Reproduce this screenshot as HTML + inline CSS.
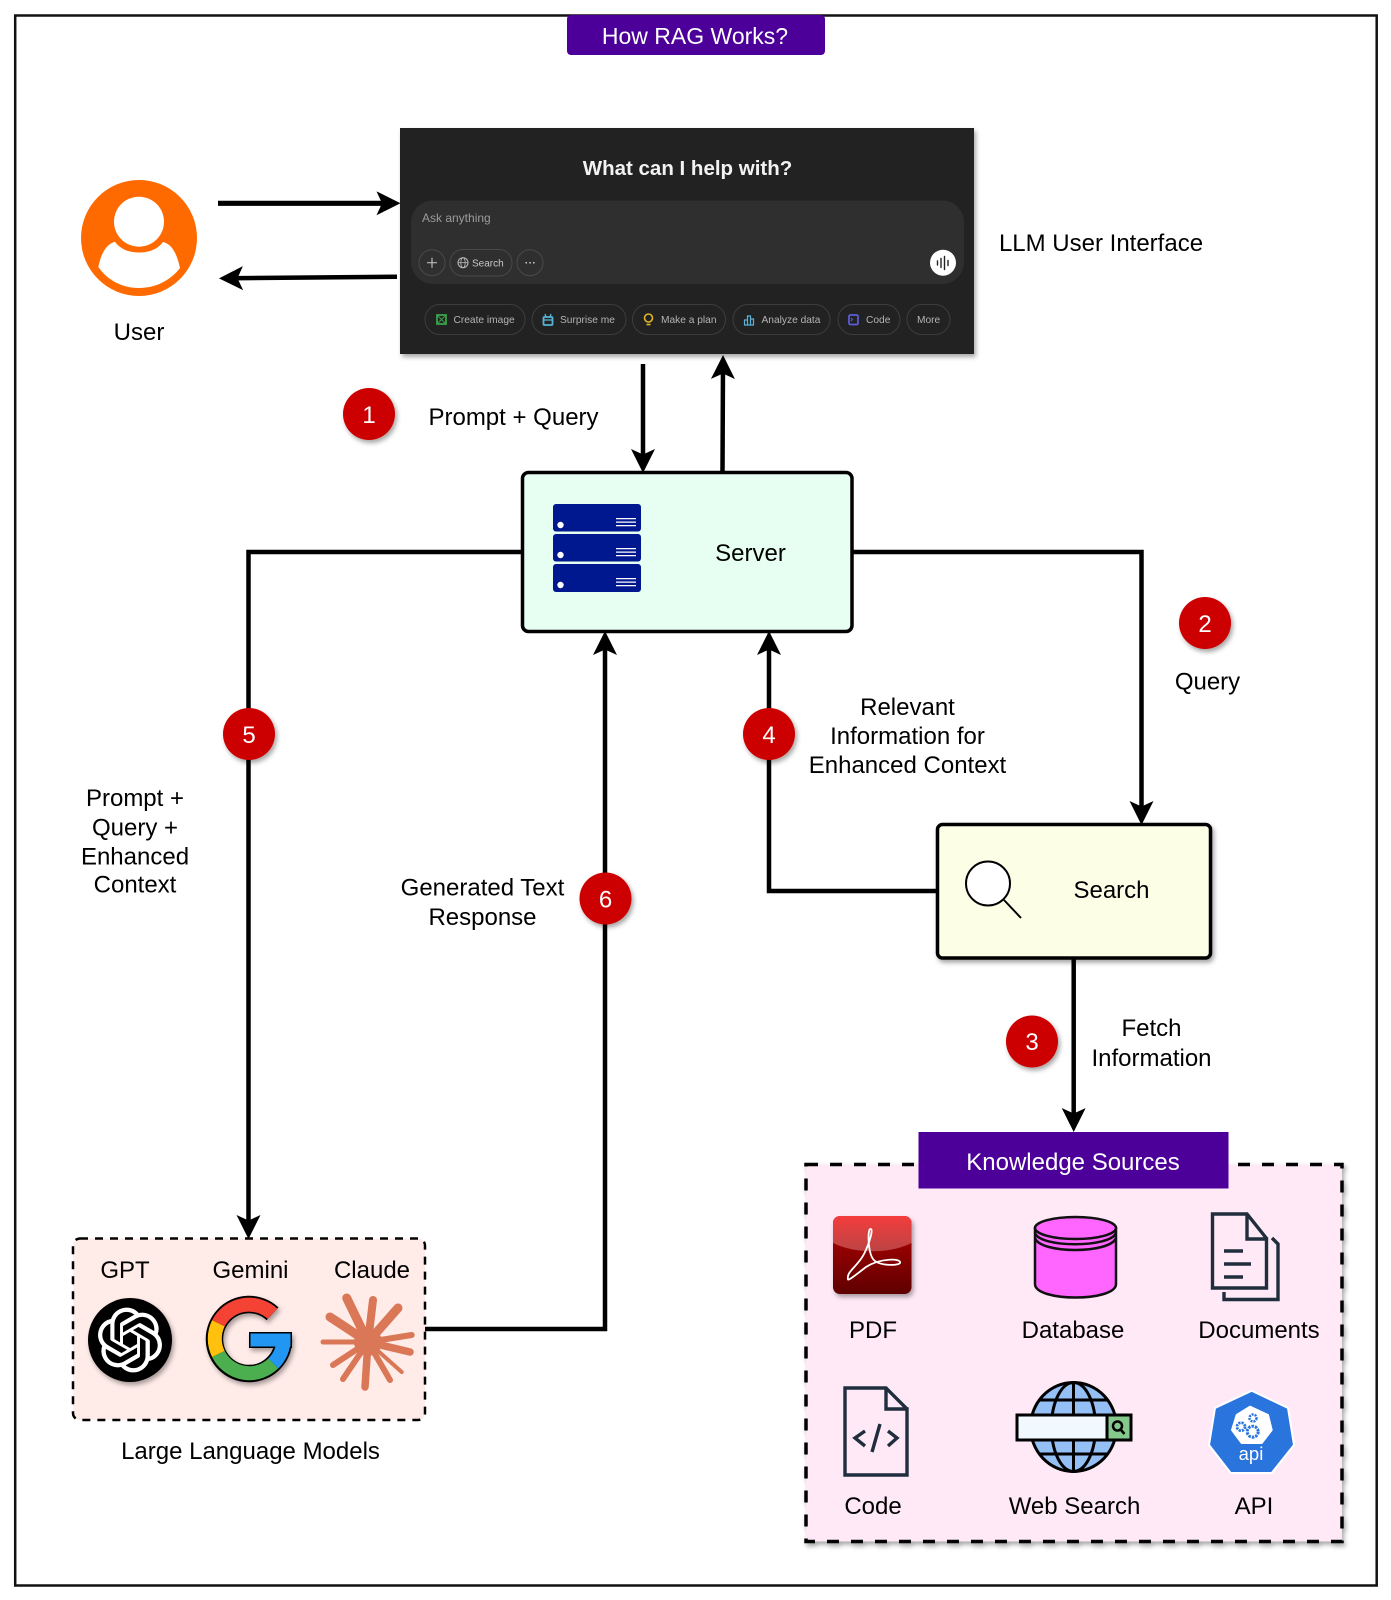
<!DOCTYPE html>
<html><head><meta charset="utf-8"><title>How RAG Works?</title>
<style>
html,body{margin:0;padding:0;background:#fff;width:1391px;height:1600px;overflow:hidden}
svg{display:block;filter:blur(.3px)}
text{font-family:"Liberation Sans",Arial,sans-serif;font-size:24px;fill:#000;text-anchor:middle}
.conn{fill:none;stroke:#000;stroke-width:4.5;stroke-linejoin:miter}
.badge{fill:#c00;filter:url(#sh)}
.bt{fill:#fff;font-size:24px}
.ui{fill:#b4b4b4;font-size:10.2px;text-anchor:start}
.chip{fill:none;stroke:#3d3d3d;stroke-width:1}
</style></head><body>
<svg width="1391" height="1600" viewBox="0 0 1391 1600" xmlns="http://www.w3.org/2000/svg">
<defs>
<filter id="sh" x="-20%" y="-20%" width="150%" height="150%"><feDropShadow dx="2" dy="3" stdDeviation="2.5" flood-color="#000" flood-opacity=".35"/></filter>
<marker id="a" markerUnits="userSpaceOnUse" markerWidth="26" markerHeight="26" refX="16" refY="12" orient="auto"><path d="M0 0L24 12L0 24L5.500 12z" fill="#000"/></marker>
<linearGradient id="pdf" x1="0" y1="0" x2="0" y2="1"><stop offset="0" stop-color="#b80808"/><stop offset="1" stop-color="#5e0000"/></linearGradient>
<linearGradient id="pdf2" x1="0" y1="0" x2="0" y2="1"><stop offset="0" stop-color="#f43c3c"/><stop offset="1" stop-color="#bb4444"/></linearGradient>
</defs>
<rect x="15.200" y="15.500" width="1361.500" height="1570" fill="#fff" stroke="#111" stroke-width="2.500"/>
<rect x="567" y="15" width="258" height="40" rx="4" fill="#4c0099"/>
<text x="695" y="44" style="fill:#fff;font-size:23px">How RAG Works?</text>

<!-- User -->
<circle cx="139" cy="238" r="58" fill="#ff6a00"/>
<circle cx="139" cy="221.700" r="25" fill="#fff"/>
<path d="M115 241.700C121 250 130 252.500 139 252.500C148 252.500 157 250 163 242C172 244 177 254 180 268C170 281 155 288 139 288C123 288 108 281 98.300 267C101 254 106 244 115 241.700z" fill="#fff"/>
<text x="139" y="340">User</text>
<path class="conn" style="stroke-width:5.200" d="M218 203.300H392.500" marker-end="url(#a)"/>
<path class="conn" d="M397 276.700L227 278.300" marker-end="url(#a)"/>

<!-- LLM UI -->
<g>
<rect x="400" y="128" width="574" height="226" fill="#212121" filter="url(#sh)"/>
<text x="687.500" y="175" style="fill:#f2f2f2;font-size:20.500px;font-weight:bold">What can I help with?</text>
<rect x="411" y="200.500" width="553" height="83.500" rx="22" fill="#2f2f2f"/>
<text x="422" y="222" style="fill:#9b9b9b;font-size:12px;text-anchor:start">Ask anything</text>
<circle cx="432" cy="262.700" r="13" class="chip" style="stroke:#4a4a4a"/>
<path d="M427 262.700h10M432 257.700v10" stroke="#bbb" stroke-width="1.200"/>
<rect x="450" y="249.500" width="62" height="26.500" rx="13" class="chip" style="stroke:#4a4a4a"/>
<circle cx="463" cy="262.700" r="5" fill="none" stroke="#bbb"/><ellipse cx="463" cy="262.700" rx="2.200" ry="5" fill="none" stroke="#bbb" stroke-width=".8"/><path d="M458 262.700h10" stroke="#bbb" stroke-width=".8"/>
<text x="472" y="266.500" class="ui" style="font-size:10px;fill:#c8c8c8">Search</text>
<circle cx="530" cy="262.700" r="13" class="chip" style="stroke:#4a4a4a"/>
<path d="M525.500 262.700h1.500M529.300 262.700h1.500M533 262.700h1.500" stroke="#ccc" stroke-width="1.500"/>
<circle cx="943" cy="262.700" r="13" fill="#fff"/>
<path d="M937.500 261v4M941 258.500v9M944.500 256.500v13M948 260.500v5" stroke="#222" stroke-width="1.400" stroke-linecap="round"/>
<rect x="425" y="304.500" width="100" height="30" rx="15" class="chip"/>
<rect x="532" y="304.500" width="94" height="30" rx="15" class="chip"/>
<rect x="632.500" y="304.500" width="93" height="30" rx="15" class="chip"/>
<rect x="733" y="304.500" width="97" height="30" rx="15" class="chip"/>
<rect x="838" y="304.500" width="62" height="30" rx="15" class="chip"/>
<rect x="907" y="304.500" width="43" height="30" rx="15" class="chip"/>
<rect x="437" y="315" width="9" height="9" fill="none" stroke="#3aa14a" stroke-width="1.800"/><path d="M437 324l9-9M437 315l9 9" stroke="#3aa14a"/>
<rect x="543.500" y="317" width="9" height="8" rx="1" fill="none" stroke="#58b5d8" stroke-width="1.800"/><path d="M543.500 320h9M546 317l-1-3M550 317l1-3" stroke="#58b5d8" stroke-width="1.300"/>
<circle cx="648.500" cy="318" r="4" fill="none" stroke="#e0b52a" stroke-width="1.600"/><path d="M646.500 324.500h4" stroke="#e0b52a" stroke-width="1.600"/>
<path d="M744.500 325v-5h3v5M747.500 325v-9h3v9M750.500 325v-6h3v6M744 325h10" fill="none" stroke="#58b5d8" stroke-width="1.200"/>
<rect x="849" y="315" width="9" height="9.500" rx="1.500" fill="none" stroke="#5a5fd8" stroke-width="1.800"/><path d="M851 318l1.500 1.500-1.500 1.500" fill="none" stroke="#5a5fd8"/>
<text x="453.500" y="323" class="ui">Create image</text>
<text x="560" y="323" class="ui">Surprise me</text>
<text x="661" y="323" class="ui">Make a plan</text>
<text x="761.500" y="323" class="ui">Analyze data</text>
<text x="866" y="323" class="ui">Code</text>
<text x="917" y="323" class="ui">More</text>
</g>
<text x="1101" y="251">LLM User Interface</text>

<!-- connectors -->
<path class="conn" d="M643 364V465" marker-end="url(#a)"/>
<path class="conn" d="M722.500 471L723 363" marker-end="url(#a)"/>
<path class="conn" d="M522 552H248.500V1231" marker-end="url(#a)"/>
<path class="conn" d="M853 552H1141.500V817" marker-end="url(#a)"/>
<path class="conn" d="M937 891H769V639" marker-end="url(#a)"/>
<path class="conn" d="M425 1329H605V639" marker-end="url(#a)"/>
<path class="conn" d="M1073.700 958V1124" marker-end="url(#a)"/>

<!-- Server -->
<rect x="522.500" y="472.500" width="329.500" height="159" rx="6" fill="#e6fff2" stroke="#000" stroke-width="3.500"/>
<g fill="#00188f"><rect x="553" y="504" width="88" height="27.500" rx="3"/><rect x="553" y="534" width="88" height="27.500" rx="3"/><rect x="553" y="564" width="88" height="28" rx="3"/></g>
<g fill="#fff"><circle cx="560.500" cy="525" r="3.200"/><circle cx="560.500" cy="555" r="3.200"/><circle cx="560.500" cy="585" r="3.200"/>
<path d="M616 518h20v1.300h-20zM616 521.500h20v1.300h-20zM616 525h20v1.300h-20zM616 548h20v1.300h-20zM616 551.500h20v1.300h-20zM616 555h20v1.300h-20zM616 578h20v1.300h-20zM616 581.500h20v1.300h-20zM616 585h20v1.300h-20z"/></g>
<text x="750.500" y="561">Server</text>

<!-- Search -->
<rect x="937.500" y="824.500" width="273" height="133.500" rx="5" fill="#fdfee6" stroke="#000" stroke-width="3.500" filter="url(#sh)"/>
<circle cx="988" cy="883.500" r="22" fill="#fff" stroke="#000" stroke-width="2"/>
<path d="M1004 900L1021 918" stroke="#000" stroke-width="2"/>
<text x="1111.500" y="898">Search</text>

<!-- Badges -->
<circle class="badge" cx="369" cy="414" r="26"/><text class="bt" x="369" y="423" style="fill:#fff">1</text>
<circle class="badge" cx="1205" cy="623" r="26"/><text class="bt" x="1205" y="632" style="fill:#fff">2</text>
<circle class="badge" cx="1032" cy="1041.500" r="26"/><text class="bt" x="1032" y="1050" style="fill:#fff">3</text>
<circle class="badge" cx="769" cy="734" r="26"/><text class="bt" x="769" y="743" style="fill:#fff">4</text>
<circle class="badge" cx="249" cy="734" r="26"/><text class="bt" x="249" y="743" style="fill:#fff">5</text>
<circle class="badge" cx="605.500" cy="898.500" r="26"/><text class="bt" x="605.500" y="907.500" style="fill:#fff">6</text>

<!-- Labels -->
<text x="513.500" y="425">Prompt + Query</text>
<text x="1207.500" y="689.500">Query</text>
<text x="907.500" y="715">Relevant</text><text x="907.500" y="744">Information for</text><text x="907.500" y="773">Enhanced Context</text>
<text x="135" y="806">Prompt +</text><text x="135" y="835.500">Query +</text><text x="135" y="864.500">Enhanced</text><text x="135" y="892.500">Context</text>
<text x="482.500" y="895.500">Generated Text</text><text x="482.500" y="925">Response</text>
<text x="1151.500" y="1036">Fetch</text><text x="1151.500" y="1066">Information</text>

<!-- LLM group -->
<rect x="73" y="1238.500" width="352" height="181.500" rx="7" fill="#ffebe8" stroke="#000" stroke-width="2.500" stroke-dasharray="8 7"/>
<text x="125" y="1278">GPT</text><text x="250.500" y="1278">Gemini</text><text x="372" y="1278">Claude</text>
<circle cx="130" cy="1340" r="42" fill="#000" filter="url(#sh)"/>
<path transform="translate(97.600 1307.600) scale(2.700)" fill="#fff" d="M22.2819 9.8211a5.9847 5.9847 0 0 0-.5157-4.9108 6.0462 6.0462 0 0 0-6.5098-2.9A6.0651 6.0651 0 0 0 4.9807 4.1818a5.9847 5.9847 0 0 0-3.9977 2.9 6.0462 6.0462 0 0 0 .7427 7.0966 5.98 5.98 0 0 0 .511 4.9107 6.051 6.051 0 0 0 6.5146 2.9001A5.9847 5.9847 0 0 0 13.2599 24a6.0557 6.0557 0 0 0 5.7718-4.2058 5.9894 5.9894 0 0 0 3.9977-2.9001 6.0557 6.0557 0 0 0-.7475-7.0729zm-9.022 12.6081a4.4755 4.4755 0 0 1-2.8764-1.0408l.1419-.0804 4.7783-2.7582a.7948.7948 0 0 0 .3927-.6813v-6.7369l2.02 1.1686a.071.071 0 0 1 .038.052v5.5826a4.504 4.504 0 0 1-4.4945 4.4944zm-9.6607-4.1254a4.4708 4.4708 0 0 1-.5346-3.0137l.142.0852 4.783 2.7582a.7712.7712 0 0 0 .7806 0l5.8428-3.3685v2.3324a.0804.0804 0 0 1-.0332.0615L9.74 19.9502a4.4992 4.4992 0 0 1-6.1408-1.6464zM2.3408 7.8956a4.485 4.485 0 0 1 2.3655-1.9728V11.6a.7664.7664 0 0 0 .3879.6765l5.8144 3.3543-2.0201 1.1685a.0757.0757 0 0 1-.071 0l-4.8303-2.7865A4.504 4.504 0 0 1 2.3408 7.872zm16.5963 3.8558L13.1038 8.364 15.1192 7.2a.0757.0757 0 0 1 .071 0l4.8303 2.7913a4.4944 4.4944 0 0 1-.6765 8.1042v-5.6772a.79.79 0 0 0-.407-.667zm2.0107-3.0231l-.142-.0852-4.7735-2.7818a.7759.7759 0 0 0-.7854 0L9.409 9.2297V6.8974a.0662.0662 0 0 1 .0284-.0615l4.8303-2.7866a4.4992 4.4992 0 0 1 6.6802 4.66zM8.3065 12.863l-2.02-1.1638a.0804.0804 0 0 1-.038-.0567V6.0742a4.4992 4.4992 0 0 1 7.3757-3.4537l-.142.0805L8.704 5.459a.7948.7948 0 0 0-.3927.6813zm1.0976-2.3654l2.602-1.4998 2.6069 1.4998v2.9994l-2.5974 1.4997-2.6067-1.4997Z"/>
<g fill="none" filter="url(#sh)" transform="translate(1 1)">
<path d="M271.500 1312.800A34.500 34.500 0 1 0 272.400 1362.400A34.500 34.500 0 0 0 282.500 1339" stroke="#000" stroke-width="17.500"/>
<rect x="248" y="1331" width="43" height="16" fill="#000"/>
<path d="M217.400 1322.200A34.500 34.500 0 0 1 271.500 1312.800" stroke="#f44336" stroke-width="14"/>
<path d="M217.400 1322.200A34.500 34.500 0 0 0 217.400 1353" stroke="#ffc107" stroke-width="14"/>
<path d="M217.400 1353A34.500 34.500 0 0 0 272.400 1362.400" stroke="#4caf50" stroke-width="14"/>
<path d="M272.400 1362.400A34.500 34.500 0 0 0 282.500 1339" stroke="#2196f3" stroke-width="14"/>
<rect x="249.500" y="1332.500" width="40" height="13" fill="#2196f3"/>
</g>
<g stroke="#d97757" stroke-linecap="round" fill="none" stroke-width="7">
<path d="M368 1342L346.700 1298" stroke-width="9"/><path d="M368 1342L373 1300" stroke-width="8"/><path d="M368 1342L398 1308" stroke-width="9"/><path d="M368 1342L411.700 1335" stroke-width="6"/><path d="M368 1342L410 1352" stroke-width="7.500"/><path d="M368 1342L401.700 1372" stroke-width="4"/><path d="M368 1342L390 1380" stroke-width="6"/><path d="M368 1342L365 1387" stroke-width="7.500"/><path d="M368 1342L343 1379" stroke-width="6"/><path d="M368 1342L333 1365" stroke-width="6"/><path d="M368 1342L323 1342" stroke-width="5"/><path d="M368 1342L330 1317" stroke-width="9"/>
</g>
<circle cx="368" cy="1342" r="14" fill="#d97757"/>
<text x="250.500" y="1459">Large Language Models</text>

<!-- Knowledge Sources -->
<rect x="806" y="1164.500" width="536" height="377" fill="#ffe9f6" stroke="#000" stroke-width="3.500" stroke-dasharray="12 12" filter="url(#sh)"/>
<rect x="918.500" y="1132" width="310" height="56.500" fill="#4c0099"/>
<text x="1073" y="1170" style="fill:#fff">Knowledge Sources</text>

<g filter="url(#sh)"><rect x="833" y="1216" width="78.500" height="78" rx="7" fill="url(#pdf)"/></g>
<path d="M833 1223a7 7 0 0 1 7-7h64.500a7 7 0 0 1 7 7V1243C890 1254 855 1254 833 1243z" fill="url(#pdf2)"/>
<path d="M871 1229C867 1227 868 1252 873 1259C878 1266 898 1266 900 1263C902 1258 880 1258 866 1267C857 1274 847 1282 848 1279C846 1272 858 1266 864 1254C870 1242 873 1230 871 1229z" fill="none" stroke="#fff" stroke-width="1.800"/>
<text x="873" y="1338">PDF</text>

<g stroke="#111" stroke-width="2.500" fill="#ff66ff">
<path d="M1035 1228V1284C1035 1302 1116 1302 1116 1284V1228z"/>
<ellipse cx="1075.500" cy="1228" rx="40.500" ry="11"/>
<path d="M1035 1233C1040 1248 1110 1248 1116 1233" fill="none" stroke-width="2.500"/>
<path d="M1035 1238C1040 1254 1110 1254 1116 1238" fill="none" stroke-width="2.500"/>
</g>
<text x="1073" y="1338">Database</text>

<g fill="none" stroke="#1f2d3d" stroke-width="3.400">
<path d="M1267 1239L1247 1214H1212.500V1288H1266.500V1239H1247V1214"/>
<path d="M1272 1238L1278 1244V1299.500H1224V1292"/>
<path d="M1224 1251H1243M1224 1264H1251M1224 1277H1243"/>
</g>
<text x="1259" y="1338">Documents</text>

<g fill="none" stroke="#1f2d3d" stroke-width="3.400">
<path d="M907 1409L886 1388H845V1475H907V1409H886V1388"/>
<path d="M865 1431L855 1438L865 1446M888 1431L897 1438L888 1446M880 1424L872 1452" stroke-width="3.400"/>
</g>
<text x="873" y="1514">Code</text>

<ellipse cx="1073.500" cy="1427" rx="43" ry="44.500" fill="#94c0f5" stroke="#000" stroke-width="3"/>
<g fill="none" stroke="#000" stroke-width="3">
<path d="M1073.500 1382.500V1471.500"/><ellipse cx="1073.500" cy="1427" rx="22" ry="44.500"/>
<path d="M1040 1400H1107M1030.500 1427H1116.500M1040 1454H1107"/>
</g>
<rect x="1017" y="1415" width="90" height="25" fill="#f1f8fe" stroke="#000" stroke-width="3"/>
<rect x="1107" y="1415" width="24" height="25" fill="#84c98b" stroke="#000" stroke-width="3"/>
<circle cx="1117.500" cy="1426" r="4.500" fill="none" stroke="#000" stroke-width="2.500"/><path d="M1121 1430l3.500 4" stroke="#000" stroke-width="2.500"/>
<text x="1074.500" y="1514">Web Search</text>

<path d="M1251.700 1390.700L1288 1408L1294 1445L1271.700 1473H1230.700L1209 1445L1215 1408z" fill="#2a74dd" stroke="#fff" stroke-width="2" stroke-linejoin="round"/>
<path d="M1250 1406.700L1268 1415L1271.700 1430L1261.700 1443H1241.700L1232 1430L1236.700 1415z" fill="#fff" stroke="#fff" stroke-width="2" stroke-linejoin="round"/>
<g fill="none" stroke="#2a74dd"><circle cx="1241" cy="1426.700" r="4" stroke-width="2.800" stroke-dasharray="2.200 1"/><circle cx="1252.700" cy="1431.700" r="5.500" stroke-width="3" stroke-dasharray="2.500 1"/><circle cx="1253" cy="1418" r="3.500" stroke-width="2.500" stroke-dasharray="2 1"/></g>
<text x="1251" y="1460" style="fill:#fff;font-size:18.500px">api</text>
<text x="1254" y="1514">API</text>
</svg>
</body></html>
